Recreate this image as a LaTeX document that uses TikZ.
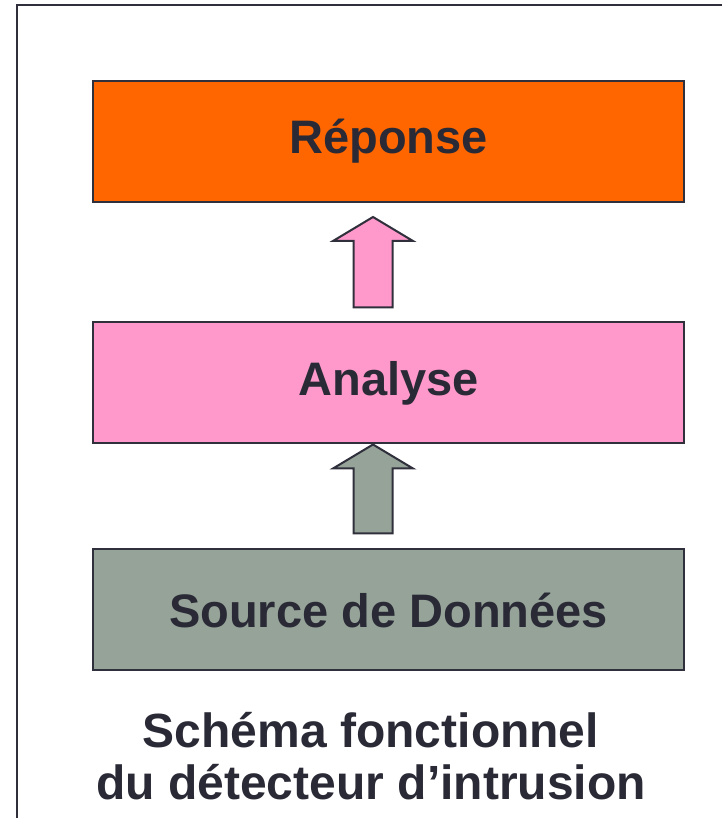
\documentclass[tikz,border=0pt]{standalone}
\usepackage{fontspec}
\setmainfont{Liberation Sans}
\usepackage{tikz}
\usetikzlibrary{positioning,calc}

\definecolor{repfill}{RGB}{255,102,0}
\definecolor{anafill}{RGB}{255,153,204}
\definecolor{srcfill}{RGB}{149,163,152}
\definecolor{edge}{RGB}{48,48,60}
\definecolor{ink}{RGB}{42,42,54}

\begin{document}
\begin{tikzpicture}[
        x=1pt, y=1pt,
        stage/.style={rectangle, draw=edge, line width=2pt, minimum width=591pt, minimum height=121pt,
                      inner sep=0pt, text=ink, font=\fontsize{47}{52}\selectfont\bfseries},
        blockarrow/.style={draw=edge, line width=2pt, line join=miter},
        caption/.style={align=center, text=ink, inner sep=0pt, font=\fontsize{48}{52}\selectfont\bfseries}
    ]
    \useasboundingbox (0,0) rectangle (722,818);

    % Frame
    \draw[edge, line width=2pt] (17,0) -- (17,813) -- (722,813);

    % Stages
    \node[stage, fill=repfill] (rep) at (388.5,676.5) {Réponse};
    \node[stage, fill=anafill] (ana) at (388.5,435) {Analyse};
    \node[stage, fill=srcfill] (src) at (388.5,208) {Source de Données};

    % Block arrows
    \foreach \from/\to/\col/\tailgap/\tipgap in {src/ana/srcfill/15/0, ana/rep/anafill/14/14} {
        \coordinate (\from tail) at ([xshift=-15.5pt, yshift=\tailgap pt]\from.north);
        \coordinate (\from tip) at ([xshift=-15.5pt, yshift=-\tipgap pt]\to.south);
        \filldraw[blockarrow, fill=\col]
            ($(\from tail)+(-19.5,0)$) -- ($(\from tip)+(-19.5,-24)$) -- ($(\from tip)+(-40,-24)$)
            -- (\from tip) -- ($(\from tip)+(40,-24)$) -- ($(\from tip)+(19.5,-24)$)
            -- ($(\from tail)+(19.5,0)$) -- cycle;
    }

    % Caption
    \node[caption, anchor=base] (title) at (371,18) {Schéma fonctionnel\\du détecteur d’intrusion};

\end{tikzpicture}
\end{document}
